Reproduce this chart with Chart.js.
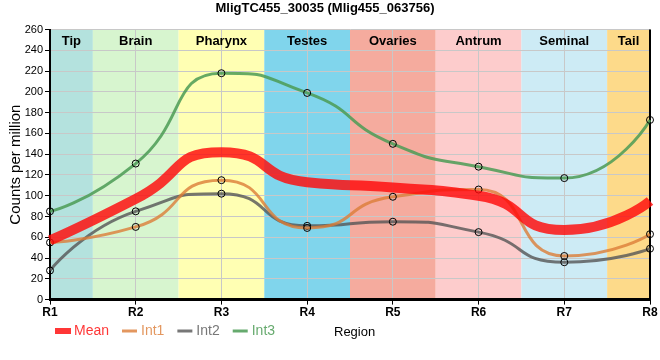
<!DOCTYPE html>
<html>
<head>
<meta charset="utf-8">
<script src="https://cdn.jsdelivr.net/npm/chart.js@4/dist/chart.umd.min.js"></script>
<style>
	html, body { margin: 0; padding: 0; background: #fff; }
	#wrap { width: 660px; height: 360px; }
</style>
</head>
<body>
<div id="wrap"><canvas id="mainChart" width="660" height="360"></canvas></div>
<script>
// data
const regions = ['R1', 'R2', 'R3', 'R4', 'R5', 'R6', 'R7', 'R8'];
const tissues = ['Tip', 'Brain', 'Pharynx', 'Testes', 'Ovaries', 'Antrum', 'Seminal', 'Tail'];
const meanValues = [57, 97, 142, 113, 108, 100, 67, 95];
const int1Values = [55, 70, 115, 69, 99, 106, 42, 63];
const int2Values = [28, 85, 102, 71, 75, 65, 36, 49];
const int3Values = [85, 131, 218, 199, 150, 128, 117, 173];
const yTicks = [0, 20, 40, 60, 80, 100, 120, 140, 160, 180, 200, 220, 240, 260];

const tissueColors = ['#b4e2de', '#d7f5cf', '#ffffb3', '#80d5ec', '#f5ab9e', '#fdcccc', '#cdebf5', '#fdda8a'];
const FONT = 'Liberation Sans, Arial, sans-serif';

document.addEventListener("DOMContentLoaded", () => {
	initChart();
});

function bandEdges(chart, i) {
	const x = chart.scales.x;
	const area = chart.chartArea;
	const left = i === 0 ? area.left : (x.getPixelForValue(i - 1) + x.getPixelForValue(i)) / 2;
	const right = i === tissues.length - 1 ? area.right : (x.getPixelForValue(i) + x.getPixelForValue(i + 1)) / 2;
	return [left, right];
}

// coloured tissue bands behind the grid, names on top, legend drawn by hand
const bandsPlugin = {
	id: 'bands',
	beforeDraw(chart) {
		const { ctx, chartArea } = chart;
		ctx.save();
		tissues.forEach((name, i) => {
			const [left, right] = bandEdges(chart, i);
			ctx.fillStyle = tissueColors[i];
			ctx.fillRect(left, chartArea.top, right - left, chartArea.bottom - chartArea.top);
		});
		ctx.restore();
	},
	beforeDatasetsDraw(chart) {
		const { ctx, chartArea } = chart;
		ctx.save();
		ctx.font = 'bold 13px ' + FONT;
		ctx.fillStyle = '#000';
		ctx.textAlign = 'center';
		ctx.textBaseline = 'middle';
		tissues.forEach((name, i) => {
			const [left, right] = bandEdges(chart, i);
			ctx.fillText(name, (left + right) / 2, chartArea.top + 12);
		});
		// right frame line
		ctx.strokeStyle = '#000';
		ctx.lineWidth = 2;
		ctx.beginPath();
		ctx.moveTo(chartArea.right, chartArea.top);
		ctx.lineTo(chartArea.right, chartArea.bottom);
		ctx.stroke();
		ctx.restore();
	},
	afterDraw(chart) {
		const { ctx } = chart;
		ctx.save();
		ctx.textAlign = 'left';
		ctx.textBaseline = 'middle';
		ctx.font = '14px ' + FONT;
		let x = 55;
		const y = 331;
		chart.data.datasets.forEach((ds, i) => {
			ctx.fillStyle = ds.borderColor;
			ctx.strokeStyle = ds.borderColor;
			if (i === 0) {
				ctx.fillRect(x, y - 3, 16, 6);
			} else {
				ctx.lineWidth = 3;
				ctx.beginPath();
				ctx.moveTo(x, y);
				ctx.lineTo(x + 15, y);
				ctx.stroke();
			}
			ctx.fillText(ds.label, x + 19, y);
			x += 19 + ctx.measureText(ds.label).width + 13;
		});
		ctx.font = '13px ' + FONT;
		ctx.fillStyle = '#000';
		ctx.fillText('Region', 334, y + 1);
		ctx.restore();
	}
};

// flat-at-extremes spline: long handles, zero handle at both ends
const smoothPlugin = {
	id: 'smooth',
	beforeDatasetDraw(chart, args) {
		const meta = args.meta;
		const pts = meta.data;
		const n = pts.length;
		if (n < 2) return;
		meta.dataset.updateControlPoints(chart.chartArea);
		const a = 0.6;
		const slopes = [];
		for (let i = 0; i < n - 1; i++) {
			slopes.push((pts[i + 1].y - pts[i].y) / (pts[i + 1].x - pts[i].x));
		}
		pts.forEach((p, i) => {
			let m = 0;
			if (i > 0 && i < n - 1) {
				const s0 = slopes[i - 1], s1 = slopes[i];
				if (s0 * s1 > 0) {
					const limit = Math.min(Math.abs(s0), Math.abs(s1)) / a * 0.95;
					m = Math.sign(s0) * Math.min(Math.abs(s0 + s1) / 2, limit);
				}
			}
			if (i > 0) {
				const dx = p.x - pts[i - 1].x;
				p.cp1x = i === n - 1 ? p.x : p.x - a * dx;
				p.cp1y = i === n - 1 ? p.y : p.y - m * a * dx;
			}
			if (i < n - 1) {
				const dx = pts[i + 1].x - p.x;
				p.cp2x = i === 0 ? p.x : p.x + a * dx;
				p.cp2y = i === 0 ? p.y : p.y + m * a * dx;
			}
		});
	}
};

function initChart() {
	const ctx = document.getElementById("mainChart");
	if (!ctx) return;

	const lineSet = (label, data, color, width, points) => ({
		label: label,
		data: data,
		borderColor: color,
		backgroundColor: color,
		borderWidth: width,
		cubicInterpolationMode: 'monotone',
		pointRadius: points ? 3.5 : 0,
		pointBorderColor: '#000',
		pointBorderWidth: 1,
		pointBackgroundColor: 'rgba(0,0,0,0)',
		fill: false
	});

	new Chart(ctx, {
		type: 'line',
		data: {
			labels: regions,
			datasets: [
				lineSet('Mean', meanValues, 'rgba(255, 10, 10, 0.82)', 10, false),
				lineSet('Int1', int1Values, 'rgba(220, 125, 55, 0.8)', 3, true),
				lineSet('Int2', int2Values, 'rgba(85, 85, 85, 0.8)', 3, true),
				lineSet('Int3', int3Values, 'rgba(75, 155, 85, 0.85)', 3, true)
			]
		},
		options: {
			responsive: false,
			animation: false,
			layout: { padding: { left: 0, right: 10, top: 0, bottom: 39 } },
			plugins: {
				title: {
					display: true,
					text: 'MligTC455_30035 (Mlig455_063756)',
					color: '#000',
					font: { family: FONT, size: 13, weight: 'bold' },
					padding: { top: 1, bottom: 13 }
				},
				legend: { display: false },
				tooltip: { enabled: false }
			},
			scales: {
				x: {
					offset: false,
					grid: { color: '#c8c8c8', tickColor: '#000', tickLength: 5 },
					border: { color: '#000', width: 3 },
					ticks: {
						color: '#000',
						padding: 1,
						maxRotation: 0,
						font: { family: FONT, size: 12, weight: 'bold' }
					}
				},
				y: {
					min: 0,
					max: 260,
					afterFit(scale) { scale.width = 50; },
					afterBuildTicks(scale) { scale.ticks = yTicks.map(v => ({ value: v })); },
					grid: { color: '#c8c8c8', tickColor: '#000', tickLength: 5 },
					border: { color: '#000', width: 2 },
					title: {
						display: true,
						text: 'Counts per million',
						color: '#000',
						padding: { top: 7, bottom: 0 },
						font: { family: FONT, size: 15 }
					},
					ticks: {
						color: '#000',
						padding: 2,
						font: { family: FONT, size: 11 }
					}
				}
			}
		},
		plugins: [bandsPlugin, smoothPlugin]
	});
}
</script>
</body>
</html>
